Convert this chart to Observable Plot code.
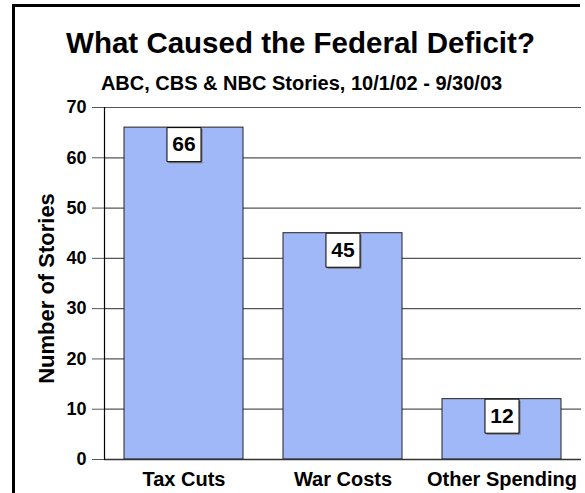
<!DOCTYPE html>
<html>
<head>
<meta charset="utf-8">
<script src="https://cdn.jsdelivr.net/npm/d3@7"></script>
<script src="https://cdn.jsdelivr.net/npm/@observablehq/plot@0.6"></script>
<style>
  html, body { margin: 0; padding: 0; background: #fff; }
  #wrap { position: relative; width: 585px; height: 493px; overflow: hidden; }
  #wrap svg { position: absolute; left: 0; top: 0; }
  #border { position: absolute; left: 12px; top: 4px; width: 565px; height: 520px;
            border-left: 3px solid #000; border-top: 3px solid #000; pointer-events: none; }
</style>
</head>
<body>
<div id="wrap"><div id="border"></div></div>
<script>
const categories = ["Tax Cuts", "War Costs", "Other Spending"];
const values = [66, 45, 12];
const yTicks = [0, 10, 20, 30, 40, 50, 60, 70];
const titleText = "What Caused the Federal Deficit?";
const subtitleText = "ABC, CBS & NBC Stories, 10/1/02 - 9/30/03";
const yLabel = "Number of Stories";

const data = categories.map((c, i) => ({category: c, value: values[i]}));
const font = "'Liberation Sans', Arial, Helvetica, sans-serif";

const chart = Plot.plot({
  width: 585,
  height: 493,
  marginLeft: 104,
  marginRight: 4,
  marginTop: 107,
  marginBottom: 34,
  style: {fontFamily: font, background: "transparent", color: "black"},
  x: {domain: categories, paddingInner: 0.25, paddingOuter: 0.12, label: null},
  y: {domain: [0, 70], label: null},
  marks: [
    Plot.ruleY(yTicks, {stroke: "#555", strokeWidth: 1.2}),
    Plot.barY(data, {x: "category", y: "value", fill: "#a0b8f8", stroke: "#222", strokeWidth: 1}),
    Plot.ruleY([0], {stroke: "#333", strokeWidth: 1.5}),
    Plot.frame({anchor: "left", stroke: "#000", strokeWidth: 1.2}),
    Plot.axisY(yTicks, {tickSize: 12, tickPadding: 6, fontSize: 18, fontWeight: "bold", stroke: "#555", fill: "#000", label: null}),
    Plot.axisX({tickSize: 0, tickPadding: 12, fontSize: 20, fontWeight: "bold", fill: "#000", label: null}),
    Plot.dot(data, {x: "category", y: "value", symbol: "square", r: 19.2, fill: "#777", stroke: "none", dx: 1.5, dy: 18.5}),
    Plot.dot(data, {x: "category", y: "value", symbol: "square", r: 19.2, fill: "#fff", stroke: "#000", strokeWidth: 1, dy: 17}),
    Plot.text(data, {x: "category", y: "value", text: d => String(d.value), dy: 17, fontSize: 21, fontWeight: "bold", fill: "#000"}),
    Plot.text([titleText], {frameAnchor: "top-left", dx: 196, dy: -55, lineAnchor: "bottom", textAnchor: "middle", fontSize: 29.5, fontWeight: "bold", fill: "#000"}),
    Plot.text([subtitleText], {frameAnchor: "top-left", dx: 197, dy: -18, lineAnchor: "bottom", textAnchor: "middle", fontSize: 20, fontWeight: "bold", fill: "#000"}),
    Plot.text([yLabel], {frameAnchor: "left", dx: -58, dy: 5, rotate: -90, textAnchor: "middle", fontSize: 22, fontWeight: "bold", fill: "#000"})
  ]
});
document.getElementById("wrap").prepend(chart);
</script>
</body>
</html>
